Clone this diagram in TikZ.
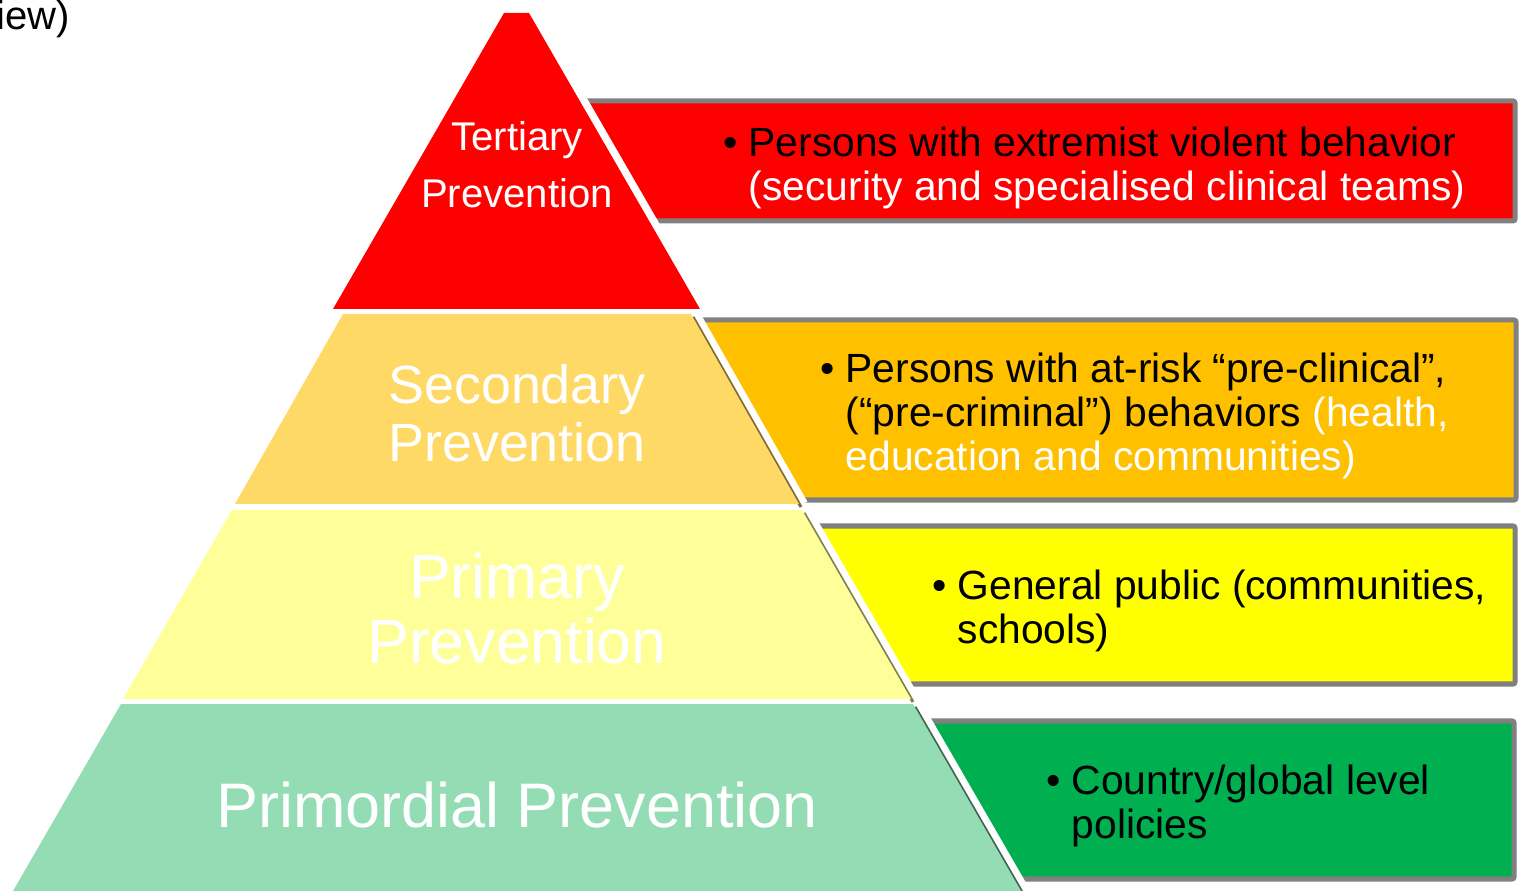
\documentclass[tikz,border=0pt]{standalone}
\usepackage{fontspec}
\setmainfont{Liberation Sans}
\usepackage{tikz}

\definecolor{tertred}{RGB}{255,0,0}
\definecolor{seclight}{RGB}{255,217,102}
\definecolor{secbox}{RGB}{255,192,0}
\definecolor{primlight}{RGB}{255,255,153}
\definecolor{primbox}{RGB}{255,255,0}
\definecolor{mordlight}{RGB}{148,220,180}
\definecolor{mordbox}{RGB}{0,176,80}
\definecolor{rimgray}{RGB}{128,128,128}

\begin{document}
\begin{tikzpicture}[x = 0.01cm, y = -0.01cm,
                        box/.style = {draw = rimgray, line width = 0.05cm, rounded corners = 0.02cm},
                        gap/.style = {white, line width = 0.1cm},
                        shadowline/.style = {line width = 0.03cm},
                        layertext/.style = {text = white, align = center, inner sep = 0},
                        boxtext/.style = {align = left, anchor = west, inner sep = 0,
                                          font = \fontsize{11.6}{12.5}\selectfont}]
      \useasboundingbox (0, 0) rectangle (1520, 891);

      \node [anchor = east, inner sep = 0, font = \fontsize{11.4}{12}\selectfont] (cut) at (71, 19) {iew)};

      % boxes behind the pyramid
      \draw [box, fill = tertred] (560, 101) rectangle (1515, 221);
      \draw [box, fill = secbox] (680, 320) rectangle (1516, 500);
      \draw [box, fill = primbox] (795, 526) rectangle (1515, 684);
      \draw [box, fill = mordbox] (905, 721) rectangle (1514, 879);

      % white gaps and shadows on the right edges
      \draw [gap, shift = {(3, 0)}] (529, 13) -- (700, 309);
      \draw [gap, shift = {(4, 0)}] (691, 314) -- (799, 504);
      \draw [gap, shift = {(4, 0)}] (802, 510) -- (911, 699);
      \draw [gap, shift = {(4, 0)}] (913, 704) -- (1021, 891);
      \draw [shadowline, seclight!50!black, shift = {(2, 3)}] (691, 314) -- (799, 504);
      \draw [shadowline, primlight!50!black, shift = {(2, 3)}] (802, 510) -- (911, 699);
      \draw [shadowline, mordlight!45!black, shift = {(2, 3)}] (913, 704) -- (1021, 891);

      % pyramid layers
      \fill [tertred] (504, 13) -- (529, 13) -- (700, 309) -- (333, 309) -- cycle;
      \fill [seclight] (343, 314) -- (691, 314) -- (799, 504) -- (235, 504) -- cycle;
      \fill [primlight] (232, 510) -- (802, 510) -- (911, 699) -- (123, 699) -- cycle;
      \fill [mordlight] (121, 704) -- (913, 704) -- (1021, 891) -- (13, 891) -- cycle;

      \node [layertext, font = \fontsize{11.4}{16.2}\selectfont] (tert) at (517, 165) {Tertiary\\Prevention};
      \node [layertext, font = \fontsize{15.3}{16.5}\selectfont] (sec) at (517, 413) {Secondary\\Prevention};
      \node [layertext, font = \fontsize{17.8}{18.5}\selectfont] (prim) at (517, 609) {Primary\\Prevention};
      \node [layertext, font = \fontsize{17.9}{18.5}\selectfont] (mord) at (517, 805) {Primordial Prevention};

      \node [boxtext] (terttext) at (748, 168)
            {\llap{\textbullet\ }Persons with extremist violent behavior\\
             \textcolor{white}{(security and specialised clinical teams)}};
      \node [boxtext] (sectext) at (845, 416)
            {\llap{\textbullet\ }Persons with at-risk “pre-clinical”,\\
             (“pre-criminal”) behaviors \textcolor{white}{(health,}\\
             \textcolor{white}{education and communities)}};
      \node [boxtext] (primtext) at (957, 611)
            {\llap{\textbullet\ }General public (communities,\\schools)};
      \node [boxtext] (mordtext) at (1071, 806)
            {\llap{\textbullet\ }Country/global level\\policies};
\end{tikzpicture}
\end{document}
